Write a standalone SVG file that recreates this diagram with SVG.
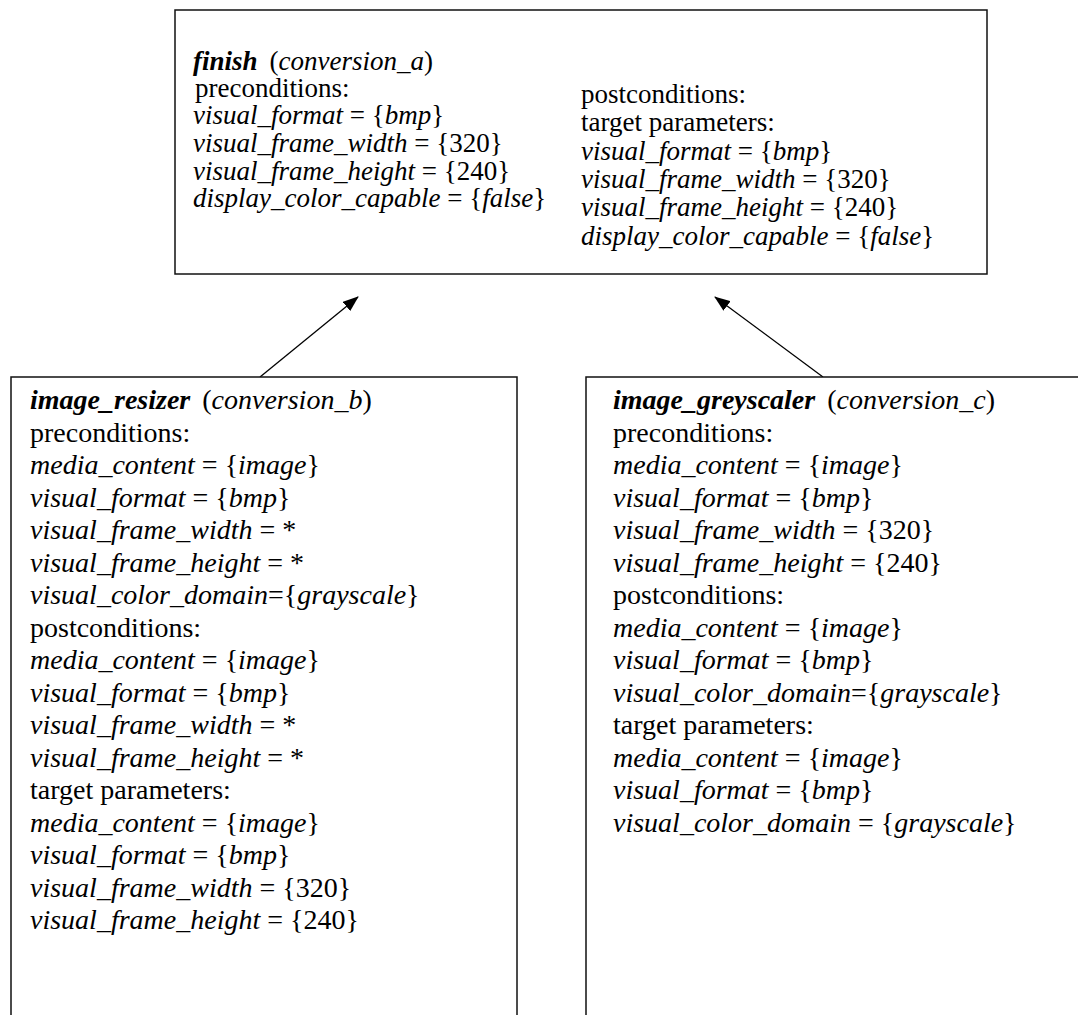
<svg xmlns="http://www.w3.org/2000/svg" width="1078" height="1015" viewBox="0 0 1078 1015">
<defs>
<style>
.box{fill:#fff;stroke:#111;stroke-width:1.5}
text{font-family:"Liberation Serif","Times New Roman",serif;font-size:28px;fill:#000}
.top text{font-size:27px}
.i{font-style:italic}
.b{font-weight:bold;font-style:italic}
.edge{stroke:#000;stroke-width:1.3;fill:none}
</style>
<marker id="ah" markerWidth="16" markerHeight="12" refX="15" refY="6" orient="auto" markerUnits="userSpaceOnUse">
<path d="M0,0 L16,6 L0,12 Z" fill="#000"/>
</marker>
</defs>
<rect width="1078" height="1015" fill="#fff"/>
<g id="connectors">
<line class="edge" x1="260" y1="377" x2="358" y2="297" marker-end="url(#ah)"/>
<line class="edge" x1="823" y1="377" x2="715" y2="297" marker-end="url(#ah)"/>
</g>
<g id="node-finish" class="top">
<rect class="box" x="175" y="10" width="812" height="264"/>
<text x="193" y="70"><tspan class="b">finish</tspan><tspan dx="12">(</tspan><tspan class="i">conversion_a</tspan>)</text>
<text x="195" y="97">preconditions:</text>
<text x="193" y="124"><tspan class="i">visual_format</tspan> = {<tspan class="i">bmp</tspan>}</text>
<text x="193" y="152"><tspan class="i">visual_frame_width</tspan> = {320}</text>
<text x="193" y="180"><tspan class="i">visual_frame_height</tspan> = {240}</text>
<text x="193" y="207"><tspan class="i">display_color_capable</tspan> = {<tspan class="i">false</tspan>}</text>
<text x="581" y="103">postconditions:</text>
<text x="581" y="131">target parameters:</text>
<text x="581" y="160"><tspan class="i">visual_format</tspan> = {<tspan class="i">bmp</tspan>}</text>
<text x="581" y="188"><tspan class="i">visual_frame_width</tspan> = {320}</text>
<text x="581" y="216"><tspan class="i">visual_frame_height</tspan> = {240}</text>
<text x="581" y="245"><tspan class="i">display_color_capable</tspan> = {<tspan class="i">false</tspan>}</text>
</g>
<g id="node-image-resizer">
<rect class="box" x="11" y="377" width="506" height="660"/>
<text x="30" y="409"><tspan class="b">image_resizer</tspan><tspan dx="12">(</tspan><tspan class="i">conversion_b</tspan>)</text>
<text x="30" y="441.5">preconditions:</text>
<text x="30" y="474"><tspan class="i">media_content</tspan> = {<tspan class="i">image</tspan>}</text>
<text x="30" y="506.5"><tspan class="i">visual_format</tspan> = {<tspan class="i">bmp</tspan>}</text>
<text x="30" y="539"><tspan class="i">visual_frame_width</tspan> = *</text>
<text x="30" y="571.5"><tspan class="i">visual_frame_height</tspan> = *</text>
<text x="30" y="604"><tspan class="i">visual_color_domain</tspan>={<tspan class="i">grayscale</tspan>}</text>
<text x="30" y="636.5">postconditions:</text>
<text x="30" y="669"><tspan class="i">media_content</tspan> = {<tspan class="i">image</tspan>}</text>
<text x="30" y="701.5"><tspan class="i">visual_format</tspan> = {<tspan class="i">bmp</tspan>}</text>
<text x="30" y="734"><tspan class="i">visual_frame_width</tspan> = *</text>
<text x="30" y="766.5"><tspan class="i">visual_frame_height</tspan> = *</text>
<text x="30" y="799">target parameters:</text>
<text x="30" y="831.5"><tspan class="i">media_content</tspan> = {<tspan class="i">image</tspan>}</text>
<text x="30" y="864"><tspan class="i">visual_format</tspan> = {<tspan class="i">bmp</tspan>}</text>
<text x="30" y="896.5"><tspan class="i">visual_frame_width</tspan> = {320}</text>
<text x="30" y="929"><tspan class="i">visual_frame_height</tspan> = {240}</text>
</g>
<g id="node-image-greyscaler">
<rect class="box" x="586" y="377" width="520" height="660"/>
<text x="613" y="409"><tspan class="b">image_greyscaler</tspan><tspan dx="12">(</tspan><tspan class="i">conversion_c</tspan>)</text>
<text x="613" y="441.5">preconditions:</text>
<text x="613" y="474"><tspan class="i">media_content</tspan> = {<tspan class="i">image</tspan>}</text>
<text x="613" y="506.5"><tspan class="i">visual_format</tspan> = {<tspan class="i">bmp</tspan>}</text>
<text x="613" y="539"><tspan class="i">visual_frame_width</tspan> = {320}</text>
<text x="613" y="571.5"><tspan class="i">visual_frame_height</tspan> = {240}</text>
<text x="613" y="604">postconditions:</text>
<text x="613" y="636.5"><tspan class="i">media_content</tspan> = {<tspan class="i">image</tspan>}</text>
<text x="613" y="669"><tspan class="i">visual_format</tspan> = {<tspan class="i">bmp</tspan>}</text>
<text x="613" y="701.5"><tspan class="i">visual_color_domain</tspan>={<tspan class="i">grayscale</tspan>}</text>
<text x="613" y="734">target parameters:</text>
<text x="613" y="766.5"><tspan class="i">media_content</tspan> = {<tspan class="i">image</tspan>}</text>
<text x="613" y="799"><tspan class="i">visual_format</tspan> = {<tspan class="i">bmp</tspan>}</text>
<text x="613" y="831.5"><tspan class="i">visual_color_domain</tspan> = {<tspan class="i">grayscale</tspan>}</text>
</g>
</svg>
